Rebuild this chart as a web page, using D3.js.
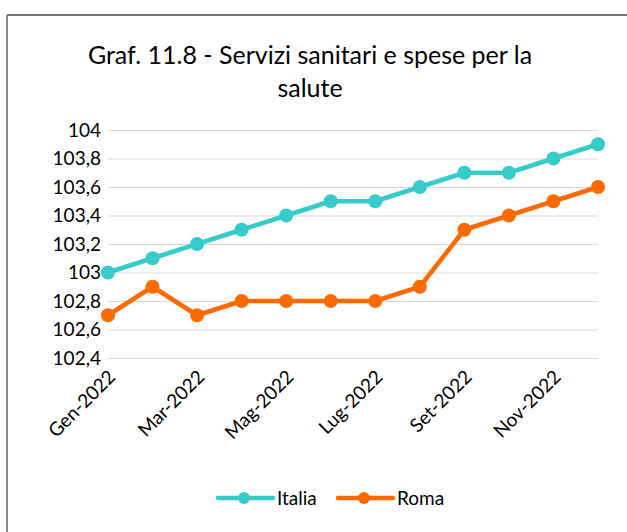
<!DOCTYPE html>
<html>
<head>
<meta charset="utf-8">
<script src="https://cdn.jsdelivr.net/npm/d3@7"></script>
<style>
    body { margin: 0; background: #fff; }
    text { font-family: Lato, 'Open Sans', sans-serif; fill: #000; }
</style>
</head>
<body>
<div id="chart"></div>
<script>
const months = ['Gen-2022', 'Feb-2022', 'Mar-2022', 'Apr-2022', 'Mag-2022', 'Giu-2022',
    'Lug-2022', 'Ago-2022', 'Set-2022', 'Ott-2022', 'Nov-2022', 'Dic-2022'];
const italia = [103, 103.1, 103.2, 103.3, 103.4, 103.5, 103.5, 103.6, 103.7, 103.7, 103.8, 103.9];
const roma = [102.7, 102.9, 102.7, 102.8, 102.8, 102.8, 102.8, 102.9, 103.3, 103.4, 103.5, 103.6];
const yTicks = [102.4, 102.6, 102.8, 103, 103.2, 103.4, 103.6, 103.8, 104];
const titleLines = ['Graf. 11.8 - Servizi sanitari e spese per la', 'salute'];

const series = [
    { name: 'Italia', values: italia, color: '#36CBCB' },
    { name: 'Roma', values: roma, color: '#FF6A00' }
];

const W = 627, H = 532;
const margin = { left: 108, right: 29, top: 130, bottom: 174 };
const width = W - margin.left - margin.right;
const height = H - margin.top - margin.bottom;

const svg = d3.select('#chart').append('svg')
    .attr('width', W)
    .attr('height', H);

// chart frame (only top and left edges are visible in the crop)
svg.append('line')
    .attr('x1', 7).attr('x2', W).attr('y1', 15).attr('y2', 15)
    .attr('stroke', '#444').attr('stroke-width', 1.5);
svg.append('line')
    .attr('x1', 7).attr('x2', 7).attr('y1', 15).attr('y2', H)
    .attr('stroke', '#888').attr('stroke-width', 2);

svg.selectAll('.title')
    .data(titleLines)
    .enter()
    .append('text')
    .attr('class', 'title')
    .attr('x', 310)
    .attr('y', (d, i) => 64 + i * 33)
    .attr('text-anchor', 'middle')
    .style('font-size', '25px')
    .text(d => d);

const g = svg.append('g')
    .attr('transform', `translate(${margin.left},${margin.top})`);

const x = d3.scalePoint().domain(months).range([0, width]);
const y = d3.scaleLinear().domain([102.4, 104]).range([height, 0]);

const fmt = d => String(d).replace('.', ',');

const yAxis = d3.axisLeft(y)
    .tickValues(yTicks)
    .tickSize(-width)
    .tickPadding(7)
    .tickFormat(fmt);

const yg = g.append('g').call(yAxis);
yg.select('.domain').remove();
yg.selectAll('line').attr('stroke', '#d9d9d9').attr('stroke-width', 1);
yg.selectAll('text').style('font-size', '19px').attr('fill', '#000');

const xAxis = d3.axisBottom(x)
    .tickValues(months.filter((d, i) => i % 2 === 0))
    .tickSize(0);

const xg = g.append('g')
    .attr('transform', `translate(0,${height})`)
    .call(xAxis);
xg.select('.domain').remove();
xg.selectAll('text')
    .style('font-size', '19px')
    .attr('fill', '#000')
    .attr('text-anchor', 'end')
    .attr('dy', 0)
    .attr('transform', 'translate(6,18) rotate(-45)');

const line = d3.line()
    .x((d, i) => x(months[i]))
    .y(d => y(d));

series.forEach(s => {
    g.append('path')
        .datum(s.values)
        .attr('fill', 'none')
        .attr('stroke', s.color)
        .attr('stroke-width', 4.5)
        .attr('stroke-linejoin', 'round')
        .attr('d', line);

    g.selectAll(null)
        .data(s.values)
        .enter()
        .append('circle')
        .attr('cx', (d, i) => x(months[i]))
        .attr('cy', d => y(d))
        .attr('r', 7)
        .attr('fill', s.color);
});

// legend
const legend = svg.append('g')
    .attr('transform', 'translate(218, 498)');

series.forEach((s, i) => {
    const row = legend.append('g')
        .attr('transform', `translate(${i * 120}, 0)`);
    row.append('line')
        .attr('x1', 0).attr('x2', 55)
        .attr('stroke', s.color)
        .attr('stroke-width', 4.5)
        .attr('stroke-linecap', 'round');
    row.append('circle')
        .attr('cx', 26)
        .attr('r', 6)
        .attr('fill', s.color);
    row.append('text')
        .attr('x', 59)
        .attr('dy', '0.35em')
        .style('font-size', '19px')
        .text(s.name);
});
</script>
</body>
</html>
